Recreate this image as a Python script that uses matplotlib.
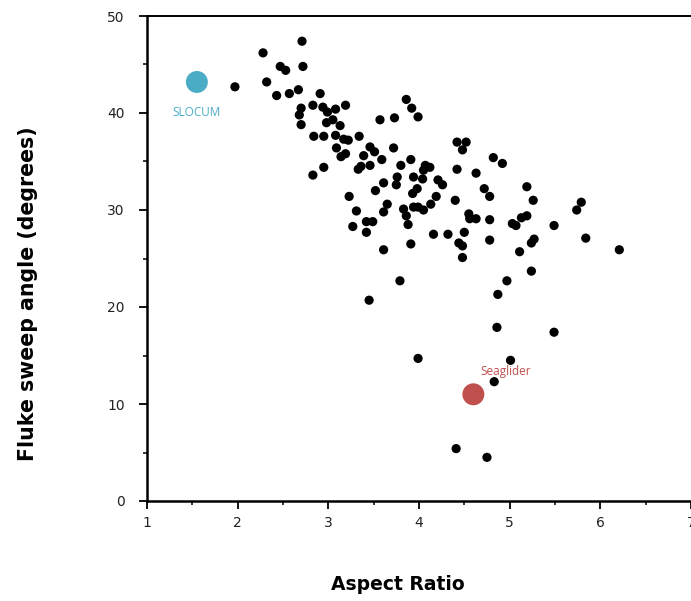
import numpy as np
import matplotlib
matplotlib.use("Agg")
import matplotlib.pyplot as plt
from matplotlib.ticker import MultipleLocator

# cetacean fluke data
aspect_ratio = [
    1.97, 2.28, 2.71, 2.47, 2.53, 2.72, 2.32, 2.43, 2.57, 2.67,
    2.91, 2.70, 2.68, 2.70, 2.83, 2.94, 2.99, 3.08, 3.19, 2.98,
    3.05, 3.13, 2.84, 2.95, 3.08, 3.17, 3.22, 3.34, 3.09, 3.19,
    3.14, 3.46, 3.51, 3.39, 3.59, 3.36, 3.46, 3.33, 3.57, 3.73,
    3.72, 3.86, 3.92, 3.99, 2.95, 2.83, 3.80, 3.91, 3.61, 3.76,
    3.75, 3.52, 3.23, 3.31, 3.65, 3.61, 3.83, 3.86, 3.88, 3.27,
    3.42, 3.49, 3.42, 3.61, 3.91, 4.42, 4.52, 4.48, 4.82, 4.92,
    4.07, 4.12, 4.05, 4.42, 4.63, 3.94, 4.04, 3.98, 3.93, 4.21,
    4.26, 4.19, 4.72, 4.78, 5.19, 5.26, 4.40, 3.94, 3.99, 4.05,
    4.13, 4.55, 4.56, 4.63, 4.78, 5.03, 5.07, 5.13, 5.19, 5.49,
    5.74, 5.79, 4.16, 4.32, 4.50, 4.44, 4.48, 4.48, 4.78, 5.11,
    5.24, 5.27, 5.84, 6.21, 5.24, 4.97, 4.87, 3.79, 3.45, 4.86,
    5.49, 3.99, 5.01, 4.83, 4.41, 4.75,
]
sweep_angle = [
    42.7, 46.2, 47.4, 44.8, 44.4, 44.8, 43.2, 41.8, 42.0, 42.4,
    42.0, 40.5, 39.8, 38.8, 40.8, 40.6, 40.1, 40.4, 40.8, 39.0,
    39.3, 38.7, 37.6, 37.6, 37.7, 37.3, 37.2, 37.6, 36.4, 35.8,
    35.5, 36.5, 36.0, 35.6, 35.2, 34.5, 34.6, 34.2, 39.3, 39.5,
    36.4, 41.4, 40.5, 39.6, 34.4, 33.6, 34.6, 35.2, 32.8, 33.4,
    32.6, 32.0, 31.4, 29.9, 30.6, 29.8, 30.1, 29.4, 28.5, 28.3,
    28.8, 28.8, 27.7, 25.9, 26.5, 37.0, 37.0, 36.2, 35.4, 34.8,
    34.6, 34.4, 34.1, 34.2, 33.8, 33.4, 33.2, 32.2, 31.7, 33.1,
    32.6, 31.4, 32.2, 31.4, 32.4, 31.0, 31.0, 30.3, 30.3, 30.0,
    30.6, 29.6, 29.1, 29.1, 29.0, 28.6, 28.4, 29.2, 29.4, 28.4,
    30.0, 30.8, 27.5, 27.5, 27.7, 26.6, 26.3, 25.1, 26.9, 25.7,
    26.6, 27.0, 27.1, 25.9, 23.7, 22.7, 21.3, 22.7, 20.7, 17.9,
    17.4, 14.7, 14.5, 12.3, 5.4, 4.5,
]

# the two gliders
glider_names = ["SLOCUM", "Seaglider"]
glider_ar = [1.55, 4.60]
glider_sweep = [43.2, 11.0]
glider_colors = ["#4BACC6", "#C0504D"]
label_pos = [(1.55, 40.0, "center"), (4.68, 13.3, "left")]

fig = plt.figure(figsize=(6.91, 6.01), dpi=100)
ax = fig.add_axes([147 / 691, 100 / 601, 553 / 691, 485 / 601])

ax.scatter(aspect_ratio, sweep_angle, s=44, c="black", edgecolors="none", zorder=3)
for name, x, y, col, (lx, ly, ha) in zip(glider_names, glider_ar, glider_sweep,
                                         glider_colors, label_pos):
    ax.scatter([x], [y], s=250, c=col, edgecolors="none", zorder=4)
    ax.text(lx, ly, name, color=col, fontsize=8.5, ha=ha, va="center",
            family="Open Sans")

ax.set_xlim(1, 7.1)
ax.set_ylim(0, 50)
ax.xaxis.set_major_locator(MultipleLocator(1))
ax.xaxis.set_minor_locator(MultipleLocator(0.5))
ax.yaxis.set_major_locator(MultipleLocator(10))
ax.yaxis.set_minor_locator(MultipleLocator(5))
ax.tick_params(which="major", length=6, width=1.3, labelsize=10,
               labelcolor="#222222")
ax.tick_params(axis="x", which="major", pad=5)
ax.tick_params(axis="y", which="major", pad=10)
ax.tick_params(which="minor", length=3, width=1.1)

for side in ["left", "bottom"]:
    ax.spines[side].set_linewidth(1.8)
ax.spines["top"].set_linewidth(1.4)
ax.spines["right"].set_visible(False)

ax.set_xlabel("Aspect Ratio", fontsize=13.5, fontweight="bold", va="center")
ax.set_ylabel("Fluke sweep angle (degrees)", fontsize=14.8, fontweight="bold",
              va="center")
ax.xaxis.set_label_coords(0.454, -0.173)
ax.yaxis.set_label_coords(-0.215, 0.427)

fig.savefig("out.png", dpi=100)
